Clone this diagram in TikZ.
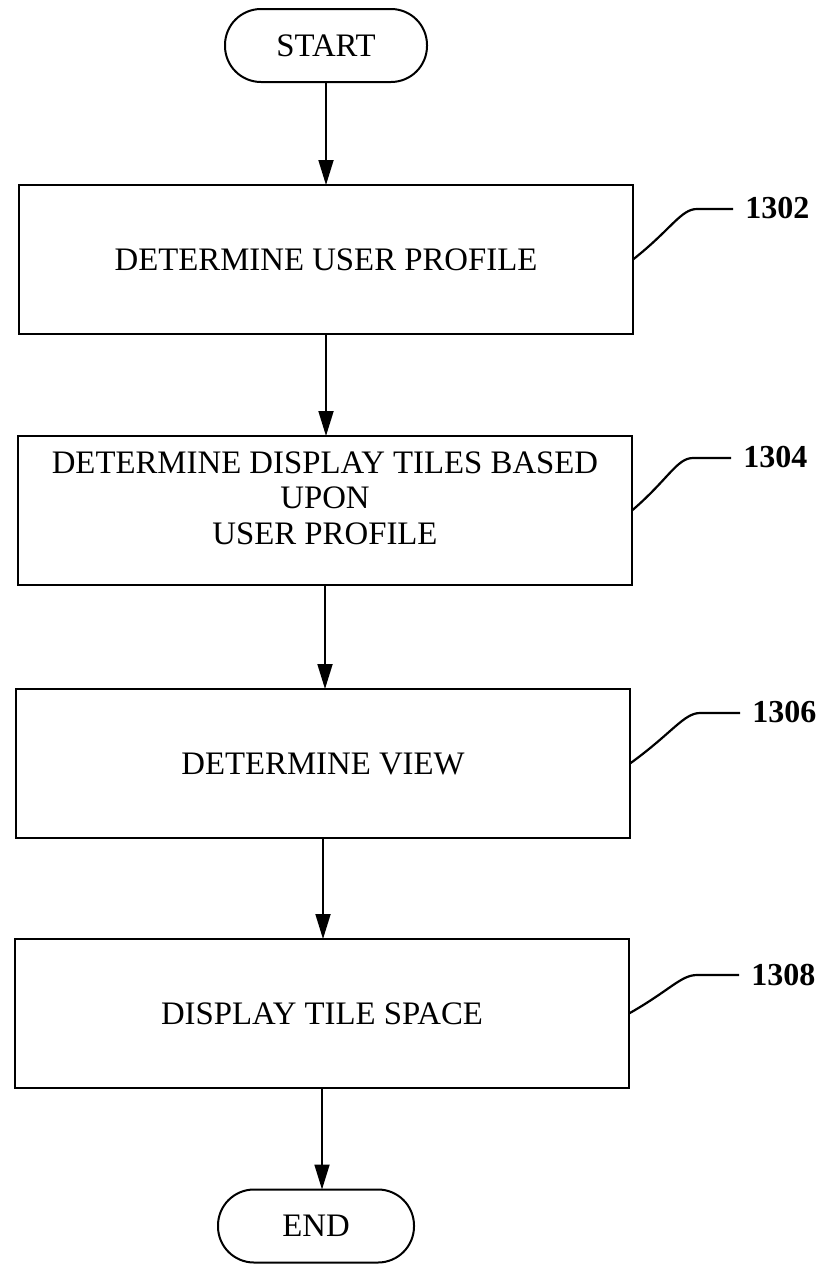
\documentclass[tikz,border=0pt]{standalone}
\usepackage{fontspec}
\setmainfont{Liberation Serif}
\usetikzlibrary{arrows.meta,calc}
\begin{document}
\begin{tikzpicture}[x=0.5pt,y=-0.5pt,
  boxnode/.style={draw, line width=1.1pt, minimum width=307pt, minimum height=74.5pt, inner sep=0pt, outer sep=0pt, align=center, font=\fontsize{16.4}{17.75}\selectfont},
  boxtext/.style={inner sep=0pt, align=center, font=\fontsize{16.4}{17.75}\selectfont},
  termnode/.style={draw, line width=1pt, rounded corners=18pt, minimum height=36.5pt, inner sep=0pt, outer sep=0pt, font=\fontsize{16.4}{17.75}\selectfont},
  flow/.style={line width=0.9pt, -{Triangle[length=12.5pt,width=7.5pt]}},
  leader/.style={line width=1.1pt},
  refnum/.style={font=\bfseries\fontsize{16}{17.75}\selectfont, anchor=west, inner sep=0pt}]
\useasboundingbox (0,0) rectangle (822,1264);
% terminals and boxes
\node[termnode, minimum width=101pt] (start) at (326,45.5) {START};
\node[boxnode] (b1) at (326,259.5) {DETERMINE USER PROFILE};
\node[boxnode] (b2) at (325,510.5) {};
\node[boxtext] (t2) at (325,498) {DETERMINE DISPLAY TILES BASED\\UPON\\USER PROFILE};
\node[boxnode] (b3) at (323,763.5) {DETERMINE VIEW};
\node[boxnode] (b4) at (322,1013.5) {DISPLAY TILE SPACE};
\node[termnode, minimum width=98pt] (end) at (316,1226) {END};
% flow arrows
\draw[flow] (start.south) -- (start.south |- b1.north);
\draw[flow] (b1.south) -- (b1.south |- b2.north);
\draw[flow] (b2.south) -- (b2.south |- b3.north);
\draw[flow] (b3.south) -- (b3.south |- b4.north);
\draw[flow] (b4.south) -- (b4.south |- end.north);
% reference numerals
\node[refnum] (n1) at (745,208) {1302};
\node[refnum] (n2) at (743,457) {1304};
\node[refnum] (n3) at (752,712) {1306};
\node[refnum] (n4) at (751,975) {1308};
\coordinate (k1) at (697,209);
\coordinate (k2) at (693,458);
\coordinate (k3) at (700,713);
\coordinate (k4) at (697,975);
\draw[leader] (b1.east) .. controls ($(b1.east)!0.6!(k1)$) and ([xshift=-8pt]k1) .. (k1) -- ([xshift=-6pt]n1.west |- k1);
\draw[leader] (b2.east) .. controls ($(b2.east)!0.6!(k2)$) and ([xshift=-8pt]k2) .. (k2) -- ([xshift=-6pt]n2.west |- k2);
\draw[leader] (b3.east) .. controls ($(b3.east)!0.6!(k3)$) and ([xshift=-8pt]k3) .. (k3) -- ([xshift=-6pt]n3.west |- k3);
\draw[leader] (b4.east) .. controls ($(b4.east)!0.6!(k4)$) and ([xshift=-8pt]k4) .. (k4) -- ([xshift=-6pt]n4.west |- k4);
\end{tikzpicture}
\end{document}
